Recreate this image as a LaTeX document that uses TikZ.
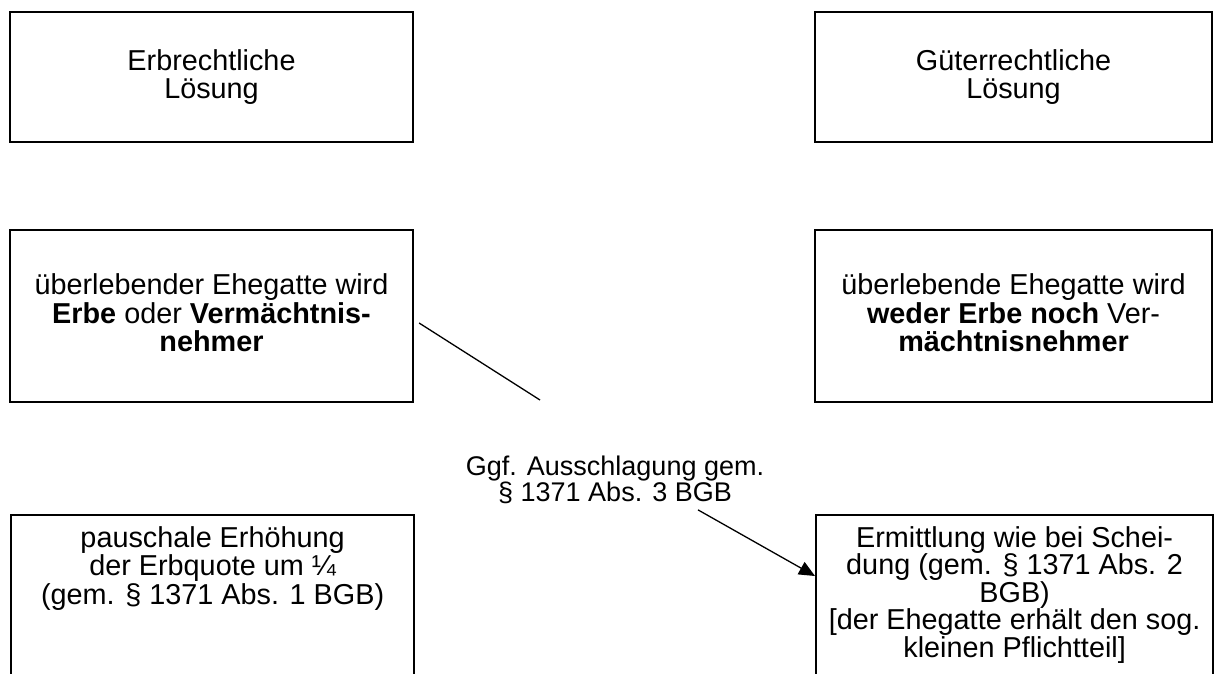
\documentclass[tikz,border=0pt]{standalone}
\usepackage{fontspec}
\setmainfont{Liberation Sans}
\usetikzlibrary{arrows.meta,calc}
\begin{document}
\begin{tikzpicture}[x=1pt,y=-1pt,
  box/.style={draw,line width=2.2pt,inner sep=0pt},
  boxtext/.style={align=center,inner sep=0pt,font=\fontsize{28.8}{28.5}\selectfont},
  tighttext/.style={align=center,inner sep=0pt,font=\fontsize{28.8}{27.5}\selectfont},
  labeltext/.style={align=center,inner sep=0pt,font=\fontsize{27}{25.5}\selectfont},
  conn/.style={line width=1.3pt},
]
\useasboundingbox (0,0) rectangle (1214,673);
\clip (0,0) rectangle (1214,673);

% top row
\node[box,boxtext,minimum width=403,minimum height=130] (erb) at (211.5,77) {Erbrechtliche\\Lösung};
\node[box,boxtext,minimum width=397,minimum height=130] (gut) at (1013.5,77) {Güterrechtliche\\Lösung};

% middle row: frames, with the text set a little above the middle
\node[box,minimum width=403,minimum height=172] (erbe) at (211.5,316) {};
\node[boxtext] (erbetxt) at ($(erbe.center)+(0,-3)$)
  {überlebender Ehegatte wird\\\textbf{Erbe} oder \textbf{Vermächtnis-}\\\textbf{nehmer}};
\node[box,minimum width=397,minimum height=172] (weder) at (1013.5,316) {};
\node[boxtext] (wedertxt) at ($(weder.center)+(0,-3)$)
  {überlebende Ehegatte wird\\\textbf{weder Erbe noch} Ver-\\\textbf{mächtnisnehmer}};

% bottom row, boxes run past the lower edge
\node[box,minimum width=403,minimum height=220,anchor=north west] (pausch) at (10,514) {};
\node[boxtext,anchor=north] (pauschtxt) at ($(pausch.north)+(0,12)$)
  {pauschale Erhöhung\\der Erbquote um ¼\\(gem. § 1371 Abs. 1 BGB)};
\node[box,minimum width=397,minimum height=220,anchor=north west] (ermitt) at (815,514) {};
\node[tighttext,anchor=north] (ermitttxt) at ($(ermitt.north)+(0,12)$)
  {Ermittlung wie bei Schei-\\dung (gem. § 1371 Abs. 2\\BGB)\\{[}der Ehegatte erhält den sog.\\kleinen Pflichtteil{]}};

% label between the rows
\node[labeltext] (aus) at (615,480) {Ggf. Ausschlagung gem.\\§ 1371 Abs. 3 BGB};

% connectors
\coordinate (lineend) at (540,400);
\draw[conn] ($(erbe.east)+(5,7)$) -- (lineend);
\coordinate (arrstart) at ($(aus.south)+(83,6)$);
\draw[conn,-{Triangle[length=16pt,width=14pt]}] (arrstart) -- ($(ermitt.north west)+(0,62)$);
\end{tikzpicture}
\end{document}
